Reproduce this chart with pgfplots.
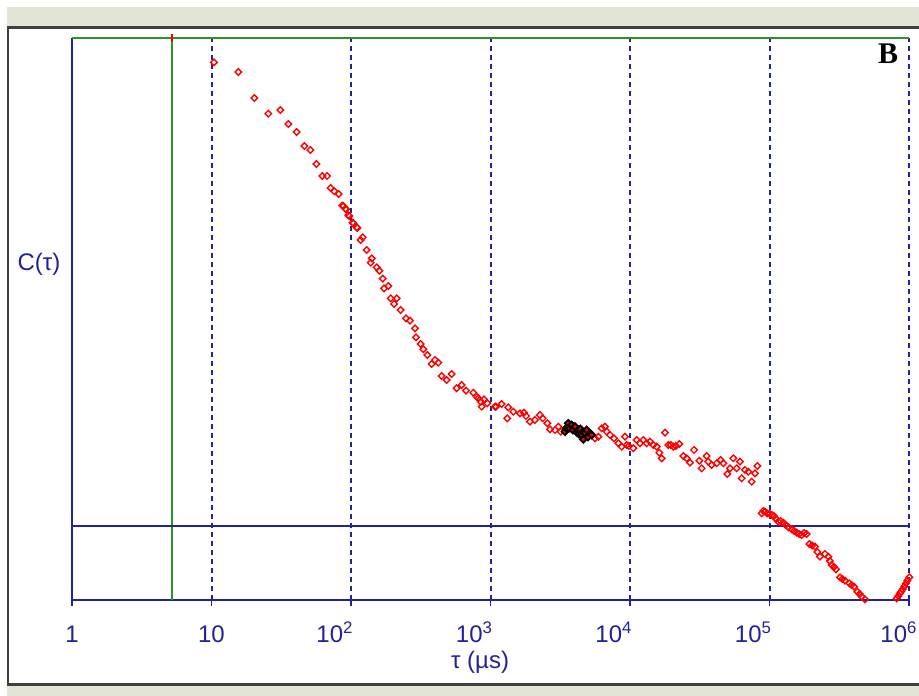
\documentclass[border=0pt]{standalone}
\usepackage{pgfplots}
\pgfplotsset{compat=1.18}
\usepackage{pgfplotstable}
\usepackage{fontspec}
\setmainfont{Liberation Sans}
\newfontfamily\serifB{Liberation Serif}
\definecolor{axblue}{RGB}{34,34,154}
\definecolor{axgreen}{RGB}{40,150,40}
\definecolor{beige}{RGB}{228,228,212}
\definecolor{framegray}{RGB}{64,64,64}

\pgfplotstableread{
tau C
10.42 537.7
15.57 528
20.27 502
25.54 486.3
31.13 490
35.53 476
40.81 468
46.27 454
51.07 450
56.39 436
62.27 424
67.30 424
71.53 412
75.92 408.7
81.62 406
86.61 394.3
91.62 391.3
95.64 384.7
102.8 377.3
109.9 372.7
88.07 394
92.07 390.7
97.23 384
103.9 376.7
111.0 372
117.3 360
121.3 362.7
129.6 350
140.8 341.7
138.4 337.3
152.9 332.7
159.6 329.3
168.8 321.3
172.5 311.7
185.1 314
192.6 301.7
212.7 301.7
203.4 296
227.1 290
248.0 281.7
264.9 279.3
287.6 271.7
292.4 262.7
316.0 256
329.9 250.7
352.4 245
400.1 240
378.8 236
422.5 237.3
446.9 224
485.3 220
527.2 226
572.3 211.7
621.6 215
667.4 209.3
752.9 207.3
796.4 203.3
850.7 198.3
898.3 200.7
948.6 196.7
864.9 193.3
1095 193.3
817.6 201.7
1077 193.3
1203 196
1341 192.7
1319 181.7
1457 188.3
1627 186.7
1739 187.3
1797 184
1919 178.3
2084 180
2263 185
2367 181.7
2554 176.7
2670 170.7
2900 170
3062 173.3
3186 168.3
5613 161.7
5928 163.3
6269 171.7
6620 173.3
6808 168.3
7188 165
7679 161.7
8245 156.7
8720 153.3
9208 163.3
9470 155
9800 154
10560 151.7
11170 160
11793 156.7
12455 160
13174 156.7
13913 158.3
14690 155
15540 153.3
16220 147.3
16880 141.7
17820 167.3
18820 155
19600 155
20440 153.3
21300 154
22560 156
24110 144
25500 141.7
26920 137.3
28760 150
31400 139.3
32660 131.7
35450 144
36410 138.3
38510 135
41830 136.7
44690 140
46650 136.7
49830 126
52100 131.7
55020 141.7
58200 131.7
61450 138.3
63200 121.7
66730 130
70470 128.3
74540 118.3
78720 126.7
81750 134
87930 86.7
90200 89
92840 88.3
96500 86.5
100800 86
104000 85
107700 84
111500 81
115600 78.3
120000 79
125600 77.3
130500 75
136400 72.7
144200 70.7
150000 69
156700 67.3
163000 66
170200 65
177000 67
184800 66
192900 56
202000 54.5
212000 53.3
220000 48
230100 43.3
249900 46
264000 43.3
271000 39
279200 35
289000 33
299800 30.7
320200 22.7
333000 21
347800 19.3
373300 16.7
388000 15
403400 13.3
426100 8.3
442000 6
458100 3.3
483800 0.7
816500 1.7
838000 4
861900 6.7
880000 8.5
901000 10.7
925000 13.5
951700 16.7
975000 19.5
1005000 22.7
}\redpts

\pgfplotstableread{
tau C
3420 168.3
3500 172
3612 176.7
3700 172
3820 175
3900 170
4035 173.3
4150 168
4261 170
4300 166
4400 171
4506 165
4600 168
4627 160.7
4750 167
4892 170
5000 163
5168 166.7
5314 165
}\blackpts

\begin{document}
\begin{tikzpicture}[x=1pt,y=1pt]
\useasboundingbox (0,0) rectangle (919,696);
\clip (0,0) rectangle (919,696);
\fill[white] (0,0) rectangle (919,696);
\fill[beige] (7,0) rectangle (919,689);
\filldraw[fill=white, draw=framegray, line width=2.2pt] (8.2,11.5) rectangle (930,668.5);
\begin{axis}[
  at={(72pt,96pt)}, anchor=south west,
  scale only axis, width=837pt, height=562pt,
  xmode=log, xmin=1, xmax=1e6, ymin=0, ymax=562,
  axis x line*=bottom, axis y line*=left,
  axis line style={axblue, line width=2pt, -},
  xtick={1,10,100,1000,10000,100000,1000000},
  xticklabels={1,10,
    \makebox[0pt][r]{10\textsuperscript{2}\hspace*{-2pt}},
    \makebox[0pt][r]{10\textsuperscript{3}\hspace*{-2pt}},
    \makebox[0pt][r]{10\textsuperscript{4}\hspace*{-2pt}},
    \makebox[0pt][r]{10\textsuperscript{5}\hspace*{-2pt}},
    \makebox[0pt][r]{10\textsuperscript{6}\hspace*{-8pt}}},
  xminorticks=false,
  ytick=\empty,
  xtick align=outside,
  major tick length=6pt,
  tick style={axblue, line width=1.8pt},
  xmajorgrids,
  grid style={axblue, dash pattern=on 5pt off 4pt, line width=2pt},
  xticklabel style={font=\fontsize{24}{24}\selectfont, text=axblue, anchor=base, yshift=-37pt},
  xlabel={τ (µs)},
  every axis x label/.style={at={(rel axis cs:0.4875,0)}, anchor=base, yshift=-69pt, font=\fontsize{24}{24}\selectfont, text=axblue},
  ylabel={C(τ)},
  every axis y label/.style={at={(rel axis cs:0,0.597)}, anchor=center, xshift=-33pt, font=\fontsize{24}{24}\selectfont, text=axblue},
  clip=false,
]
\draw[axgreen, line width=2pt] (axis cs:5.25,0) -- (axis cs:5.25,562);
\draw[axgreen, line width=2pt] (axis cs:1,562) -- (axis cs:1e6,562);
\draw[red, line width=2pt] (axis cs:5.25,558) -- (axis cs:5.25,566);
\draw[axblue, line width=2pt] (axis cs:1,73.5) -- (axis cs:1e6,73.5);
\addplot[only marks, mark=square, mark size=2.3pt, mark options={draw=red, line width=1.4pt, rotate=45}] table[x=tau, y=C] {\redpts};
\addplot[only marks, mark=square*, mark size=2.4pt, mark options={draw=black, fill=red, line width=1.9pt, rotate=45}] table[x=tau, y=C] {\blackpts};
\node[font=\serifB\bfseries\fontsize{30}{30}\selectfont, text=black] at (rel axis cs:0.975,0.9715) {B};
\end{axis}
\end{tikzpicture}
\end{document}
